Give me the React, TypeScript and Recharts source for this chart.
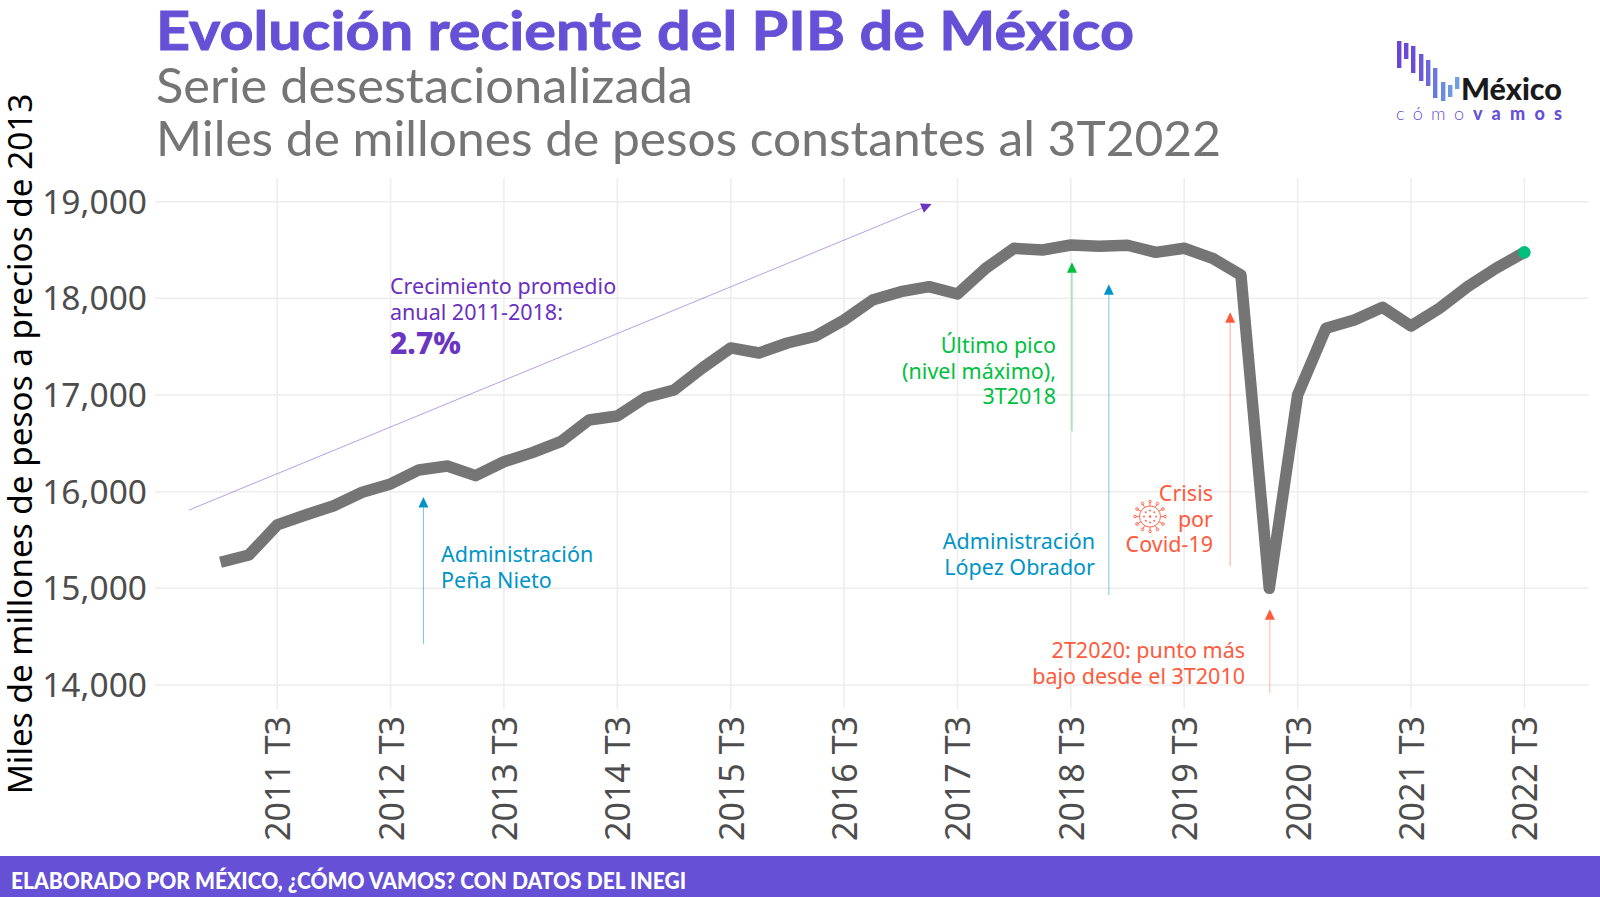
import { CartesianGrid, Line, LineChart, ReferenceLine, XAxis, YAxis } from "recharts"

const quarters = [
  "2011 T1", "2011 T2", "2011 T3", "2011 T4",
  "2012 T1", "2012 T2", "2012 T3", "2012 T4",
  "2013 T1", "2013 T2", "2013 T3", "2013 T4",
  "2014 T1", "2014 T2", "2014 T3", "2014 T4",
  "2015 T1", "2015 T2", "2015 T3", "2015 T4",
  "2016 T1", "2016 T2", "2016 T3", "2016 T4",
  "2017 T1", "2017 T2", "2017 T3", "2017 T4",
  "2018 T1", "2018 T2", "2018 T3", "2018 T4",
  "2019 T1", "2019 T2", "2019 T3", "2019 T4",
  "2020 T1", "2020 T2", "2020 T3", "2020 T4",
  "2021 T1", "2021 T2", "2021 T3", "2021 T4",
  "2022 T1", "2022 T2", "2022 T3",
]

const gdp = [
  15270, 15345, 15656, 15759,
  15855, 15994, 16080, 16225,
  16266, 16166, 16310, 16404,
  16517, 16742, 16783, 16975,
  17052, 17280, 17487, 17435,
  17538, 17610, 17776, 17982,
  18069, 18121, 18045, 18311,
  18518, 18500, 18552, 18539,
  18549, 18476, 18518, 18414,
  18242, 15000, 17000, 17690,
  17776, 17907, 17714, 17897,
  18121, 18311, 18476,
]

const yTicks = [14000, 15000, 16000, 17000, 18000, 19000]
const xTicks = [2, 6, 10, 14, 18, 22, 26, 30, 34, 38, 42, 46]

const chartData = quarters.map((q, i) => ({ idx: i, quarter: q, gdp: gdp[i] }))

// [x position in quarters, tail value, x tip, tip value]
const trendArrow = [-1.11, 15810, 25.09, 18976]
const penaArrow = [7.16, 14425, 7.16, 15945]
const peakArrow = [30.04, 16624, 30.04, 18373]
const amloArrow = [31.34, 14931, 31.34, 18146]
const covidArrow = [35.62, 15232, 35.62, 17856]
const lowArrow = [37.02, 13918, 37.02, 14784]

const trendNote = ["Crecimiento promedio", "anual 2011-2018:"]
const penaNote = ["Administración", "Peña Nieto"]
const peakNote = ["Último pico", "(nivel máximo),", "3T2018"]
const amloNote = ["Administración", "López Obrador"]
const covidNote = ["Crisis", "por", "Covid-19"]
const lowNote = ["2T2020: punto más", "bajo desde el 3T2010"]

const PURPLE = "#6650d6"
const NOTE_FONT = "'Noto Sans', 'Open Sans', sans-serif"
const HEAD_FONT = "Lato, 'Noto Sans', sans-serif"

function ArrowShape({ x1, y1, x2, y2, color, width, opacity }: any) {
  const angle = Math.atan2(y2 - y1, x2 - x1)
  const len = 10.5
  const half = 5
  const bx = x2 - len * Math.cos(angle)
  const by = y2 - len * Math.sin(angle)
  const nx = -Math.sin(angle) * half
  const ny = Math.cos(angle) * half
  return (
    <g>
      <line x1={x1} y1={y1} x2={bx} y2={by} stroke={color} strokeWidth={width} strokeOpacity={opacity} />
      <polygon points={`${x2},${y2} ${bx + nx},${by + ny} ${bx - nx},${by - ny}`} fill={color} />
    </g>
  )
}

function arrow(a: number[], color: string, width = 1, opacity = 0.55) {
  return (
    <ReferenceLine
      segment={[
        { x: a[0], y: a[1] },
        { x: a[2], y: a[3] },
      ]}
      ifOverflow="visible"
      shape={(p: any) => (
        <ArrowShape
          x1={p.x1}
          y1={p.y1}
          x2={p.x2}
          y2={p.y2}
          color={color}
          width={width}
          opacity={opacity}
        />
      )}
    />
  )
}

function XTick({ x, y, payload }: any) {
  return (
    <text
      transform={`translate(${x + 13},${y - 1}) rotate(-90)`}
      textAnchor="end"
      fontSize={34}
      fontFamily={NOTE_FONT}
      fill="#4d4d4d"
    >
      {quarters[payload.value]}
    </text>
  )
}

function Note({ lines, x, y, color, anchor = "start" }: any) {
  return (
    <text x={x} y={y} fill={color} fontSize={21.5} fontFamily={NOTE_FONT} textAnchor={anchor}>
      {lines.map((l: string, i: number) => (
        <tspan key={l} x={x} y={y + i * 25.6}>
          {l}
        </tspan>
      ))}
    </text>
  )
}

function Virus({ cx, cy, color }: any) {
  const spikes = Array.from({ length: 12 }, (_, i) => (i * Math.PI) / 6)
  const spots = Array.from({ length: 8 }, (_, i) => (i * Math.PI) / 4)
  return (
    <g stroke={color} fill="none" strokeWidth={1}>
      <circle cx={cx} cy={cy} r={10.5} />
      {spikes.map((a) => (
        <g key={a}>
          <line
            x1={cx + 10.5 * Math.cos(a)}
            y1={cy + 10.5 * Math.sin(a)}
            x2={cx + 14 * Math.cos(a)}
            y2={cy + 14 * Math.sin(a)}
          />
          <circle cx={cx + 15 * Math.cos(a)} cy={cy + 15 * Math.sin(a)} r={1.3} />
        </g>
      ))}
      {spots.map((a) => (
        <circle key={a} cx={cx + 6 * Math.cos(a)} cy={cy + 6 * Math.sin(a)} r={1} fill={color} stroke="none" />
      ))}
      <circle cx={cx} cy={cy} r={1.2} fill={color} stroke="none" />
    </g>
  )
}

const logoBars = [
  [1397, 41, 27, "#6a45d8"],
  [1404, 43, 16, "#6a48d8"],
  [1411, 46, 27, "#6a4cd9"],
  [1419, 54, 27, "#6a58da"],
  [1426, 60, 26, "#6a68dc"],
  [1433, 68, 30, "#6a78de"],
  [1441, 82, 19, "#6c8ce0"],
  [1448, 85, 12, "#6e98e1"],
  [1455, 77, 12, "#70a0e2"],
] as const

function Logo() {
  return (
    <g>
      {logoBars.map(([x, y, h, c]) => (
        <rect key={x} x={x} y={y} width={4.4} height={h} fill={c} />
      ))}
      <text x={1461} y={100} fontSize={30} fontWeight={900} fontFamily={HEAD_FONT} fill="#1a1a1a" textLength={101} lengthAdjust="spacingAndGlyphs">
        México
      </text>
      <text x={1396} y={120} fontSize={18} fontWeight={300} fontFamily={HEAD_FONT} fill={PURPLE} textLength={68}>
        cómo
      </text>
      <text x={1473} y={120} fontSize={18} fontWeight={900} fontFamily={HEAD_FONT} fill={PURPLE} textLength={89}>
        vamos
      </text>
    </g>
  )
}

export default function App() {
  return (
    <div style={{ position: "absolute", left: 0, top: 0, width: 1600, height: 897, background: "#fff", overflow: "hidden" }}>
      <LineChart
        width={1600}
        height={897}
        data={chartData}
        margin={{ top: 178, right: 11, bottom: 0, left: 0 }}
      >
        <CartesianGrid stroke="#ededed" strokeWidth={1.5} syncWithTicks />
        <XAxis
          dataKey="idx"
          type="number"
          domain={[-2.31, 48.28]}
          ticks={xTicks}
          height={188}
          axisLine={false}
          tickLine={false}
          tick={<XTick />}
          interval={0}
        />
        <YAxis
          type="number"
          domain={[13752, 19245]}
          ticks={yTicks}
          width={155}
          axisLine={false}
          tickLine={false}
          tickFormatter={(v: number) => v.toLocaleString("en-US")}
          tick={{ fontSize: 33.5, fontFamily: NOTE_FONT, fill: "#4d4d4d" }}
          tickMargin={2}
          interval={0}
        />
        <Line
          dataKey="gdp"
          stroke="#757575"
          strokeWidth={11.5}
          strokeLinejoin="round"
          strokeLinecap="butt"
          isAnimationActive={false}
          dot={(p: any) =>
            p.index === gdp.length - 1 ? (
              <circle key={p.index} cx={p.cx} cy={p.cy} r={6.3} fill="#00bf7d" />
            ) : (
              <g key={p.index} />
            )
          }
        />
        {arrow(trendArrow, "#6a35c0", 0.8, 0.6)}
        {arrow(penaArrow, "#0094c6", 1, 0.55)}
        {arrow(peakArrow, "#00c040", 1, 0.55)}
        {arrow(amloArrow, "#0094c6", 1.5, 0.35)}
        {arrow(covidArrow, "#ff5a3c", 1, 0.55)}
        {arrow(lowArrow, "#ff5a3c", 1, 0.45)}
      </LineChart>

      <svg width={1600} height={897} style={{ position: "absolute", left: 0, top: 0, pointerEvents: "none" }}>
        <text x={156} y={50} fontSize={53} fontWeight={700} fontFamily={HEAD_FONT} fill={PURPLE} stroke={PURPLE} strokeWidth={0.9} textLength={978} lengthAdjust="spacingAndGlyphs">
          Evolución reciente del PIB de México
        </text>
        <text x={156} y={103} fontSize={49} fontFamily={HEAD_FONT} fill="#757575" textLength={537} lengthAdjust="spacingAndGlyphs">
          Serie desestacionalizada
        </text>
        <text x={156} y={155.5} fontSize={49} fontFamily={HEAD_FONT} fill="#757575" textLength={1065} lengthAdjust="spacingAndGlyphs">
          Miles de millones de pesos constantes al 3T2022
        </text>
        <Logo />
        <text
          transform="translate(32,444) rotate(-90)"
          textAnchor="middle"
          fontSize={33.3}
          fontFamily={NOTE_FONT}
          fill="#000"
        >
          Miles de millones de pesos a precios de 2013
        </text>

        <Note lines={trendNote} x={390} y={294} color="#6a2fc0" />
        <text x={390} y={354} fontSize={30} fontWeight={800} fontFamily={NOTE_FONT} fill="#6a35c0">
          2.7%
        </text>
        <Note lines={penaNote} x={441} y={562} color="#0095c8" />
        <Note lines={peakNote} x={1056} y={353} color="#00c040" anchor="end" />
        <Note lines={amloNote} x={1095} y={549} color="#0095c8" anchor="end" />
        <Note lines={covidNote} x={1213} y={501} color="#ff5a3c" anchor="end" />
        <Virus cx={1150} cy={516.5} color="#ff6a50" />
        <Note lines={lowNote} x={1245} y={658} color="#ff5a3c" anchor="end" />

        <rect x={0} y={856} width={1600} height={41} fill={PURPLE} />
        <text x={11} y={889} fontSize={22} fontWeight={900} fontFamily={HEAD_FONT} fill="#fff" textLength={675} lengthAdjust="spacingAndGlyphs">
          ELABORADO POR MÉXICO, ¿CÓMO VAMOS? CON DATOS DEL INEGI
        </text>
      </svg>
    </div>
  )
}
